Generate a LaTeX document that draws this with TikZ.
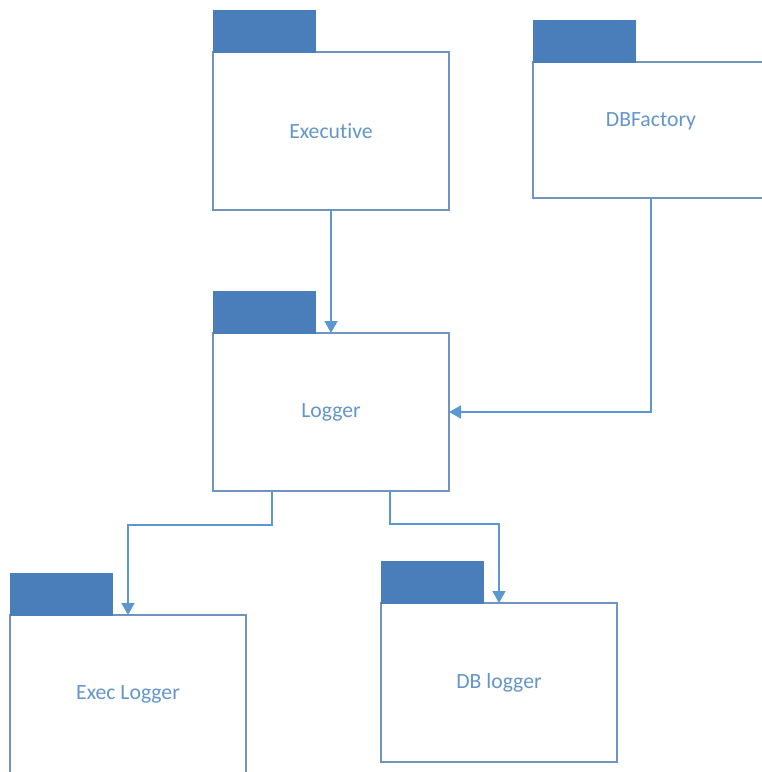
\documentclass[tikz,border=0pt]{standalone}
\usepackage{fontspec}
\setmainfont{Carlito}[Ligatures=NoCommon]
\usetikzlibrary{arrows.meta,calc}

\definecolor{tabblue}{HTML}{4A7EBB}
\definecolor{edgeblue}{HTML}{7094BF}
\definecolor{wireblue}{HTML}{5B97D0}
\definecolor{labelblue}{HTML}{6496CA}

\tikzset{
  pkgbody/.style={draw=edgeblue, line width=1.4pt, fill=white, rectangle,
    inner sep=0pt, outer sep=0pt, minimum width=236pt,
    text=labelblue, font=\fontsize{21.7}{26}\selectfont},
  pkgtab/.style={fill=tabblue, draw=tabblue, line width=0.6pt, rectangle,
    inner sep=0pt, outer sep=0pt, minimum width=102pt, minimum height=42pt,
    anchor=south west},
  pkglabel/.style={text=labelblue, font=\fontsize{21.7}{26}\selectfont, inner sep=0pt},
  wire/.style={draw=wireblue, line width=1.6pt,
    -{Triangle[width=13pt,length=12pt]}},
}

\begin{document}
\begin{tikzpicture}[x=1pt,y=-1pt]
  \useasboundingbox (0,0) rectangle (762,772);

  % package bodies
  \node[pkgbody, minimum height=158pt] (exec) at (331,131) {Executive};
  \node[pkgbody, minimum height=136pt] (dbf) at (651,130) {};
  \node[pkglabel] (dbflabel) at (651,121) {DBFactory};
  \node[pkgbody, minimum height=158pt] (logger) at (331,412) {Logger};
  \node[pkgbody, minimum height=158pt] (execlog) at (128,694) {Exec Logger};
  \node[pkgbody, minimum height=159pt] (dblog) at (499,682.5) {DB logger};

  % package tabs
  \node[pkgtab] (exectab) at (exec.north west) {};
  \node[pkgtab] (dbftab) at (dbf.north west) {};
  \node[pkgtab] (loggertab) at (logger.north west) {};
  \node[pkgtab] (execlogtab) at (execlog.north west) {};
  \node[pkgtab] (dblogtab) at (dblog.north west) {};

  % dependencies
  \draw[wire] (exec.south) -- (logger.north);
  \draw[wire] (dbf.south) |- (logger.east);
  \coordinate (lgA) at ($(logger.south west)!0.25!(logger.south east)$);
  \coordinate (lgB) at ($(logger.south west)!0.75!(logger.south east)$);
  \draw[wire] (lgA) -- ++(0,34) -| (execlog.north);
  \draw[wire] (lgB) -- ++(0,33) -| (dblog.north);
\end{tikzpicture}
\end{document}
